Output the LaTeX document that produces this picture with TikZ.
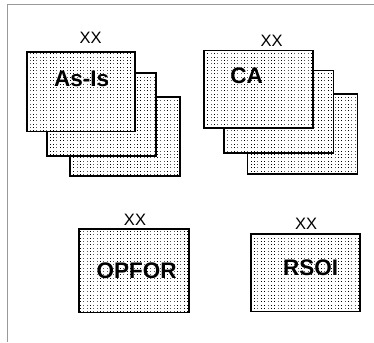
\documentclass[tikz,border=0pt]{standalone}
\usepackage{fontspec}
\setmainfont{Liberation Sans}
\usetikzlibrary{patterns}
\pgfdeclarepatternformonly{sparsedots}{\pgfqpoint{-0.5pt}{-0.5pt}}{\pgfqpoint{0.5pt}{0.5pt}}{\pgfqpoint{3.35pt}{3.35pt}}{%
  \pgfpathrectangle{\pgfqpoint{-0.5pt}{-0.5pt}}{\pgfqpoint{1pt}{1pt}}%
  \pgfusepath{fill}}
\begin{document}
\begin{tikzpicture}[x=1pt,y=1pt,
  card/.style={draw=black, line width=1.6pt, preaction={fill=white}, pattern=sparsedots, pattern color=black},
  big/.style={font=\fontsize{22.5}{22.5}\selectfont\bfseries, inner sep=0pt},
  tag/.style={font=\fontsize{16.5}{16.5}\selectfont, inner sep=0pt}]
\useasboundingbox (0,0) rectangle (374,342);
\draw[gray!80, line width=1pt] (7.5,0) -- (7.5,337.3) -- (374,337.3);
% As-Is stack
\draw[card] (70,166) rectangle (180,244.7);
\draw[card] (46.7,186) rectangle (155.7,268.7);
\draw[card] (26.7,210.3) rectangle (135,289.7);
\node[big] (asis) at (81.7,263) {As-Is};
\node[tag] (xx1) at (90.7,303.7) {XX};
% CA stack
\draw[card] (247.3,168) rectangle (357.3,247.7);
\draw[card] (224,188.7) rectangle (333.3,271.3);
\draw[card] (204,213.7) rectangle (312.7,291.3);
\node[big] (ca) at (246.7,266) {CA};
\node[tag] (xx2) at (271.7,301.3) {XX};
% OPFOR
\draw[card] (79,29.3) rectangle (189,112.7);
\node[big] (opfor) at (136.7,71.3) {OPFOR};
\node[tag] (xx3) at (135,122) {XX};
% RSOI
\draw[card] (251,30.3) rectangle (360,108);
\node[big] (rsoi) at (310.7,74.7) {RSOI};
\node[tag] (xx4) at (306,118) {XX};
\end{tikzpicture}
\end{document}
